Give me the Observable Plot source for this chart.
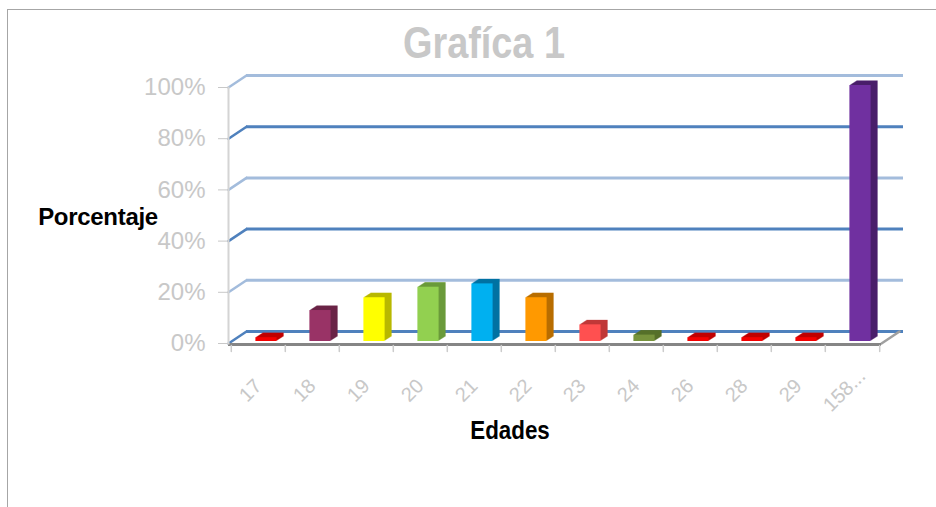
<!DOCTYPE html>
<html>
<head>
<meta charset="utf-8">
<script src="https://cdn.jsdelivr.net/npm/d3@7"></script>
<script src="https://cdn.jsdelivr.net/npm/@observablehq/plot@0.6"></script>
<style>
  html, body { margin: 0; padding: 0; background: #fff; overflow: hidden; }
  #wrap { position: relative; width: 936px; height: 507px; font-family: "Liberation Sans", Arial, sans-serif; }
  #wrap svg { position: absolute; left: 0; top: 0; }
  .border { position: absolute; left: 7px; top: 9px; width: 940px; height: 510px; border-left: 1px solid #a6a6a6; border-top: 1px solid #a6a6a6; }
  .lbl { position: absolute; white-space: nowrap; text-align: center; font-weight: bold; }
</style>
</head>
<body>
<div id="wrap">
  <div class="border"></div>
</div>
<script>
// ---- data ----
const categories = ["17", "18", "19", "20", "21", "22", "23", "24", "26", "28", "29", "158..."];
const values = [0.015, 0.121, 0.171, 0.212, 0.225, 0.171, 0.065, 0.025, 0.015, 0.015, 0.015, 1.0];
const frontColors = ["#f40000", "#993366", "#ffff00", "#92d050", "#00b0f0", "#ff9900", "#ff5050", "#77933c", "#f40000", "#f40000", "#f40000", "#7030a0"];
const sideColors = ["#c00000", "#6b2447", "#b8b800", "#6a9a3a", "#0072a3", "#b86e00", "#c03838", "#56702a", "#c00000", "#c00000", "#c00000", "#4a1f6a"];
const yTicks = [0, 0.2, 0.4, 0.6, 0.8, 1.0];
const gridColors = ["#4f81bd", "#a3bcdc", "#4f81bd", "#a3bcdc", "#4f81bd", "#a3bcdc"];
const titleText = "Grafíca 1";
const yLabel = "Porcentaje";
const xLabel = "Edades";

const data = categories.map((c, i) => ({age: c, value: values[i], front: frontColors[i], side: sideColors[i]}));
const grid = yTicks.map((t, i) => ({t, color: gridColors[i]}));

const W = 936, H = 507, mL = 228, mR = 55, mT = 87, mB = 164;
const bw = (W - mL - mR) / categories.length;
const depthX = 18, depthY = -12;
const slant = Math.hypot(depthX, depthY);
const slantAngle = Math.atan2(depthX, -depthY) * 180 / Math.PI;
const lineShape = {draw(ctx, l) { ctx.moveTo(0, 0); ctx.lineTo(0, -l); }};

// bar extrusion: successive shifted copies build the top and side faces
const barDepthX = 7, barDepthY = 4.5, baseDy = -2;
const extrusion = d3.range(barDepthX, 0, -1).map(k =>
  Plot.barY(data, {x: "age", y: "value", fill: "side", insetLeft: 24.4, insetRight: 8.4, dx: k, dy: baseDy - k * barDepthY / barDepthX})
);

const chart = Plot.plot({
  width: W, height: H,
  marginLeft: mL, marginRight: mR, marginTop: mT, marginBottom: mB,
  style: {fontFamily: "Liberation Sans, Arial, sans-serif", background: "transparent"},
  x: {type: "band", domain: categories, padding: 0, axis: null},
  y: {domain: [0, 1], axis: null},
  color: {type: "identity"},
  marks: [
    // back-wall gridlines
    Plot.ruleY(grid, {y: "t", stroke: "color", strokeWidth: 3, dx: depthX, dy: depthY, insetRight: -4}),
    // slanted side-wall segments
    Plot.vector(grid, {y: "t", frameAnchor: "left", length: slant, rotate: slantAngle, anchor: "start", shape: lineShape, stroke: "color", strokeWidth: 2.5}),
    // floor right diagonal
    Plot.vector([0], {y: d => d, frameAnchor: "right", length: slant, rotate: slantAngle, anchor: "start", shape: lineShape, stroke: "#a0a0a0", strokeWidth: 2.5}),
    // floor front edge
    Plot.ruleY([0], {stroke: "#858585", strokeWidth: 3, dy: 1}),
    // vertical axis line
    Plot.frame({anchor: "left", stroke: "#d4d4d4", strokeWidth: 2}),
    // y axis ticks and labels
    Plot.axisY({ticks: yTicks, tickFormat: d3.format(".0%"), tickSize: 10, tickPadding: 13, fontSize: 24, color: "#c8c8c8", label: null}),
    // x tick marks at band boundaries
    Plot.vector(data, {x: "age", y: () => 0, dx: -bw / 2, dy: 2, length: 6, rotate: 180, anchor: "start", shape: lineShape, stroke: "#cccccc", strokeWidth: 1.5}),
    Plot.vector(data.slice(-1), {x: "age", y: () => 0, dx: bw / 2, dy: 2, length: 6, rotate: 180, anchor: "start", shape: lineShape, stroke: "#cccccc", strokeWidth: 1.5}),
    // 3D bars: extrusion (top + side) then front face
    ...extrusion,
    Plot.barY(data, {x: "age", y: "value", fill: "front", insetLeft: 24.4, insetRight: 8.4, dy: baseDy}),
    // x tick labels
    Plot.text(data, {x: "age", y: () => 0, text: "age", dx: -8, dy: 47, rotate: -45, textAnchor: "middle", fontSize: 20, fontFamily: "Liberation Sans, Arial, sans-serif", fill: "#c8c8c8"})
  ]
});
const wrap = document.getElementById("wrap");
wrap.appendChild(chart);

function addLabel(text, cx, top, size, color, scale, extra) {
  const d = document.createElement("div");
  d.className = "lbl";
  d.textContent = text;
  d.style.left = (cx - 200) + "px";
  d.style.width = "400px";
  d.style.top = top + "px";
  d.style.fontSize = size + "px";
  d.style.lineHeight = size + "px";
  d.style.color = color;
  d.style.transform = "scaleX(" + scale + ")";
  if (extra) Object.assign(d.style, extra);
  wrap.appendChild(d);
}
addLabel(titleText, 484, 20.7, 44, "#c8c8c8", 0.86);
addLabel(yLabel, 98, 204.7, 24, "#000000", 1, {letterSpacing: "-0.3px"});
addLabel(xLabel, 510, 417, 26, "#000000", 0.86);
</script>
</body>
</html>
